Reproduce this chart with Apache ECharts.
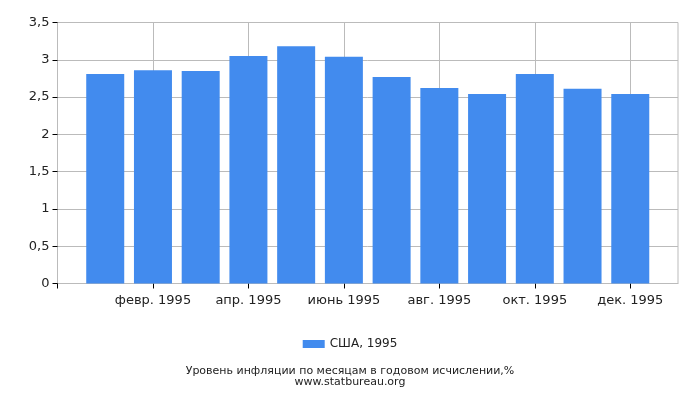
<!DOCTYPE html>
<html>
<head>
<meta charset="utf-8">
<script src="https://cdn.jsdelivr.net/npm/echarts@6/dist/echarts.min.js"></script>
<style>html,body{margin:0;padding:0;background:#fff;}#c{width:700px;height:400px;}</style>
</head>
<body>
<div id="c"></div>
<script>
var months = ['янв. 1995','февр. 1995','март 1995','апр. 1995','май 1995','июнь 1995','июль 1995','авг. 1995','сент. 1995','окт. 1995','нояб. 1995','дек. 1995'];
var values = [2.81, 2.86, 2.85, 3.05, 3.18, 3.04, 2.77, 2.62, 2.54, 2.81, 2.61, 2.54];
var seriesName = 'США, 1995';
var titleText = 'Уровень инфляции по месяцам в годовом исчислении,%';
var subText = 'www.statbureau.org';

var cats = [''].concat(months).concat(['']);
var data = ['-'].concat(values).concat(['-']);
var even = function (i) { return i % 2 === 0 && i <= 12; };
var font = 'DejaVu Sans';

var chart = echarts.init(document.getElementById('c'));
chart.setOption({
  animation: false,
  textStyle: { fontFamily: font },
  grid: { left: 57.5, right: 22, top: 22.5, bottom: 116.5, show: true, borderColor: '#bbb', borderWidth: 1 },
  xAxis: {
    type: 'category', data: cats, boundaryGap: false,
    axisLine: { lineStyle: { color: '#bbb' } },
    axisTick: { show: true, interval: even, length: 5, lineStyle: { color: '#000' } },
    axisLabel: { interval: even, color: '#222', fontSize: 13, fontFamily: font, margin: 11 },
    splitLine: { show: true, interval: even, lineStyle: { color: '#bbb' } }
  },
  yAxis: {
    type: 'value', min: 0, max: 3.5, interval: 0.5,
    axisLine: { show: true, lineStyle: { color: '#bbb' } },
    axisTick: { show: true, length: 5, lineStyle: { color: '#000' } },
    axisLabel: { color: '#222', fontSize: 13, fontFamily: font, margin: 8,
      formatter: function (v) { return String(v).replace('.', ','); } },
    splitLine: { show: true, lineStyle: { color: '#bbb' } }
  },
  legend: {
    data: [{ name: seriesName, icon: 'rect' }], left: 'center', top: 333, itemWidth: 22, itemHeight: 8, itemGap: 5,
    textStyle: { color: '#222', fontSize: 12, fontFamily: font }
  },
  title: {
    text: titleText, subtext: subText, left: 'center', top: 361, itemGap: 0,
    textStyle: { color: '#222', fontSize: 11, fontWeight: 'normal', fontFamily: font, lineHeight: 11 },
    subtextStyle: { color: '#222', fontSize: 11, fontFamily: font, lineHeight: 11 }
  },
  series: [{
    name: seriesName, type: 'bar', data: data, barWidth: 38,
    itemStyle: { color: '#428bee' }
  }]
});
</script>
</body>
</html>
